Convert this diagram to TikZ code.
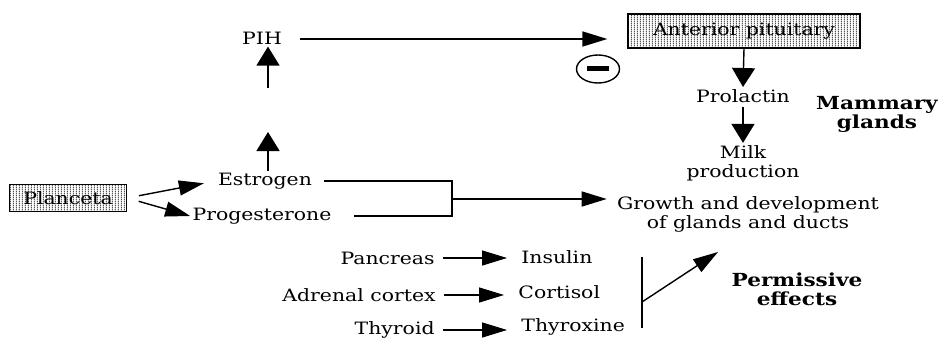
\documentclass[tikz,border=0pt]{standalone}
\usepackage{fontspec}
\setmainfont{DejaVu Serif}[FakeStretch=1.2]
\usepackage{tikz}
\usetikzlibrary{arrows.meta,patterns,shapes.geometric}
\definecolor{hatchgray}{HTML}{555555}
\pgfdeclarepatternformonly{densevlines}{\pgfpointorigin}{\pgfqpoint{1.6pt}{1pt}}{\pgfqpoint{1.6pt}{1pt}}{%
  \pgfsetlinewidth{0.6pt}%
  \pgfpathmoveto{\pgfqpoint{0.8pt}{0pt}}%
  \pgfpathlineto{\pgfqpoint{0.8pt}{1pt}}%
  \pgfusepath{stroke}}
\tikzset{
  hormone/.style={inner sep=1pt,font=\fontsize{8.5}{9.5}\selectfont},
  organbox/.style={draw,line width=0.6pt,pattern=densevlines,pattern color=hatchgray,
    inner sep=0pt,font=\fontsize{8.5}{9.5}\selectfont},
  tagtext/.style={inner sep=1pt,align=center,font=\fontsize{9}{9.5}\selectfont\bfseries},
  harrow/.style={line width=0.7pt,-{Triangle[length=12.5pt,width=7.5pt]}},
  varrow/.style={line width=0.7pt,-{Triangle[length=9.5pt,width=11.5pt]}},
  bracket/.style={line width=0.7pt}
}

\begin{document}
\begin{tikzpicture}[x=0.5pt,y=-0.5pt]
  \useasboundingbox (0,0) rectangle (947,342);
  % top: PIH and pituitary
  \node[hormone] (pih) at (262,38) {PIH};
  \node[organbox,minimum width=116pt,minimum height=17pt] (pit) at (744,31) {Anterior pituitary};
  \node[draw,ellipse,line width=0.7pt,minimum width=21.5pt,minimum height=14pt] (inh) at (598,69) {};
  \fill (inh.center) ++(-11,-2.5) rectangle ++(22,5);
  \node[hormone] (prl) at (743,96) {Prolactin};
  \node[hormone,align=center] (milk) at (743,163) {Milk\\production};
  \node[tagtext] (mam) at (877,114) {Mammary\\glands};
  % placenta steroids
  \node[organbox,minimum width=58.5pt,minimum height=13.5pt] (pla) at (68,198) {Planceta};
  \node[hormone] (est) at (265,181) {Estrogen};
  \node[hormone] (pro) at (262,216) {Progesterone};
  \node[hormone,align=center] (grow) at (748,214) {Growth and development\\of glands and ducts};
  % permissive hormones
  \node[hormone,anchor=east] (pan) at (437,258) {Pancreas};
  \node[hormone,anchor=east] (adr) at (438,295) {Adrenal cortex};
  \node[hormone,anchor=east] (thy) at (437,330) {Thyroid};
  \node[hormone,anchor=west] (ins) at (519,257) {Insulin};
  \node[hormone,anchor=west] (cor) at (516,292) {Cortisol};
  \node[hormone,anchor=west] (tyx) at (519,327) {Thyroxine};
  \node[tagtext] (perm) at (797,289) {Permissive\\effects};
  \coordinate (upa) at (268,132);
  \coordinate (upb) at (268,88);
  \coordinate (brk) at (452,199);
  \coordinate (vtop) at (642,257);
  \coordinate (vbot) at (642,328);
  \coordinate (vmid) at (642,302);
  \coordinate (perma) at (718,252);

  \draw[varrow] (upa |- est.north) -- (upa);
  \draw[varrow] (upb) -- (upb |- pih.south);
  \draw[harrow,shorten <=8pt,shorten >=10pt] (pih.east |- 0,39) -- (pit.west |- 0,39);
  \draw[varrow] (pit.south) -- (prl.north);
  \draw[varrow,shorten <=1pt] (prl.south) -- (milk.north);
  \draw[harrow,shorten <=6pt,shorten >=6pt] (pla.east) -- (est.west);
  \draw[harrow,shorten <=6pt] (pla.east) -- (pro.west);
  \draw[bracket] (est.east) ++(10,0) -| (brk) |- ([xshift=10]pro.east);
  \draw[harrow,shorten >=4pt] (brk) -- (brk -| grow.west);
  \draw[harrow,shorten <=3pt,shorten >=6pt] (pan.east) -- (pan.east -| ins.west);
  \draw[harrow,shorten <=3pt,shorten >=6pt] (adr.east) -- (adr.east -| cor.west);
  \draw[harrow,shorten <=3pt,shorten >=6pt] (thy.east) -- (thy.east -| tyx.west);
  \draw[bracket] (vtop) -- (vbot);
  \draw[harrow] (vmid) -- (perma);
\end{tikzpicture}
\end{document}
